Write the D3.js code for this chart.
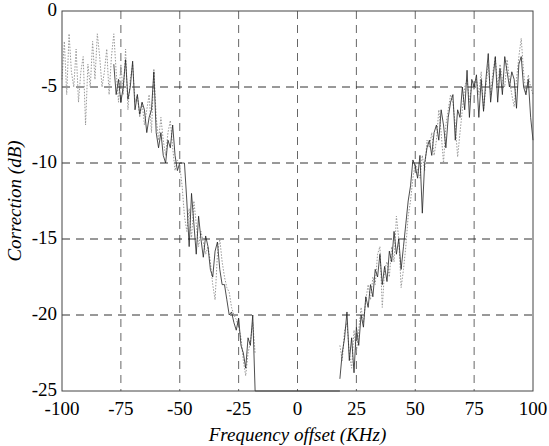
<!DOCTYPE html>
<html><head><meta charset="utf-8">
<script src="https://cdn.jsdelivr.net/npm/d3@7"></script>
</head><body style="margin:0">
<script>
// ---- data ----
const xTicks = [-100,-75,-50,-25,0,25,50,75,100];
const yTicks = [0,-5,-10,-15,-20,-25];
const xLabel = "Frequency offset (KHz)";
const yLabel = "Correction (dB)";

// grey dotted series, left branch (x = -100 .. -18, step 1)
const greyLeftStart = -100;
const greyLeft = [-4.5,-2,-5.5,-1.5,-4,-5,-2.5,-6,-4,-3,-7.5,-3.5,-5,-2,-4.5,-1.5,-3,-5,-4,-2.5,
  -5.5,-3,-1.5,-4,-6,-3.5,-5.5,-2.5,-6.5,-4.5,-3.5,-6,-5.5,-7,-6,-7.5,-6.5,-5.5,-8,-3.8,
  -7,-8.5,-7,-8.5,-9.5,-8,-7.2,-9,-10.5,-9.8,-10.2,-11.5,-13.5,-14.5,-13,-15,-12.5,-14,-15.5,-14.5,
  -15.2,-16,-15.5,-16.5,-18,-19,-16,-15,-16.5,-17.5,-18.2,-18.5,-19.5,-20,-20.3,-20.8,-21.5,-23,-24,-22.5,
  -21.8,-20.5,-22.5];
// grey dotted series, right branch (x = 18 .. 100)
const greyRightStart = 18;
const greyRight = [-22,-23,-21,-20.5,-22.5,-23.5,-21,-22.5,-21,-19.5,-20.5,-19,-18,-19,-17.5,-18,-16,-15.5,-19.5,-17,
  -16.5,-17.5,-15.5,-16.5,-13.5,-15,-18.2,-17,-15.5,-13.5,-12.5,-11,-10,-10.5,-11,-9.5,-10.5,-8.5,-9,-8,
  -9.5,-8.5,-6.5,-8,-10,-7.5,-6.5,-5.5,-6,-7.5,-9.6,-8,-6.5,-5,-4.5,-6,-4.8,-5.2,-4.5,-5.5,
  -4,-6.5,-5,-3.5,-5.5,-4,-3,-5,-3.5,-4.5,-5,-3.2,-4.5,-5.5,-6.3,-4.5,-3,-1.8,-4,-5.5,
  -4.2,-5,-5.5];
// dark solid series, left branch (x = -78 .. -18), then clipped at -25 until x = 18
const darkLeftStart = -78;
const darkLeft = [-3.5,-5.5,-4.5,-6,-5,-3.2,-5.8,-5,-3.3,-6.5,-5.5,-6.8,-6,-6.5,-8,-7,-6.5,-4,-8,-9,
  -8,-9.5,-10,-8.5,-9,-7.5,-9.5,-10.5,-10,-10,-10,-12.5,-15.5,-12,-14,-16,-13.5,-15,-16.2,-14.8,
  -15.5,-17,-17.5,-15.8,-15.2,-17,-18,-18,-19,-20,-19.8,-20.5,-21,-20.2,-22,-22.5,-23.5,-21.5,-22,-20,
  -25];
const floorX = [-18, 18];
const floorY = -25;
const darkRightStart = 18;
const darkRight = [-24.2,-22.5,-21.5,-19.8,-23,-21.5,-23.8,-20.8,-22,-20,-20.8,-18.8,-19.5,-18,-18.8,-17,-17.5,-16,-18,-16.8,
  -17.8,-15.8,-16.5,-14.5,-16,-15,-17,-15.5,-14,-12.5,-11.5,-9.8,-10.2,-11,-9.5,-13.3,-10,-9,-8.5,-9.5,
  -8,-7.5,-8.5,-6.5,-7.5,-9,-7,-6,-5.5,-8.5,-6.5,-7,-5,-6.5,-3.9,-7,-4.5,-5,-4.2,-7,
  -4.5,-6.6,-4.5,-2.8,-6,-4.5,-3,-6,-3.8,-5.5,-3,-4,-5,-4,-4.5,-6.4,-3.5,-3,-5,-5.5,
  -4.5,-7,-8.5];

// ---- layout ----
const W = 549, H = 446;
const m = {left:62, right:16, top:11, bottom:55};
const FONT = '"Times New Roman"';
const FS = 19;
const svg = d3.select("body").append("svg").attr("width",W).attr("height",H);
const x = d3.scaleLinear().domain([-100,100]).range([m.left, W-m.right]);
const y = d3.scaleLinear().domain([-25,0]).range([H-m.bottom, m.top]);

// grid
const g = svg.append("g");
g.selectAll("line.vg").data(xTicks.slice(1,-1)).enter().append("line")
  .attr("x1",d=>x(d)).attr("x2",d=>x(d)).attr("y1",y(0)).attr("y2",y(-25))
  .attr("stroke","#666").attr("stroke-width",1).attr("stroke-dasharray","8,6");
g.selectAll("line.hg").data(yTicks.slice(1,-1)).enter().append("line")
  .attr("y1",d=>y(d)).attr("y2",d=>y(d)).attr("x1",x(-100)).attr("x2",x(100))
  .attr("stroke","#333").attr("stroke-width",1).attr("stroke-dasharray","8,6");

function series(start, vals){ return vals.map((v,i)=>[start+i, v]); }
const line = d3.line().x(d=>x(d[0])).y(d=>y(d[1]));

svg.append("path").datum(series(greyLeftStart, greyLeft)).attr("d",line)
  .attr("fill","none").attr("stroke","#999").attr("stroke-width",1).attr("stroke-dasharray","1.5,1.5");
svg.append("path").datum(series(greyRightStart, greyRight)).attr("d",line)
  .attr("fill","none").attr("stroke","#999").attr("stroke-width",1).attr("stroke-dasharray","1.5,1.5");
const darkL = series(darkLeftStart, darkLeft).concat(floorX.map(v=>[v,floorY]));
svg.append("path").datum(darkL).attr("d",line)
  .attr("fill","none").attr("stroke","#222").attr("stroke-width",0.8);
svg.append("path").datum(series(darkRightStart, darkRight)).attr("d",line)
  .attr("fill","none").attr("stroke","#222").attr("stroke-width",0.8);

// axes box
svg.append("rect").attr("x",x(-100)).attr("y",y(0)).attr("width",x(100)-x(-100)).attr("height",y(-25)-y(0))
  .attr("fill","none").attr("stroke","#444").attr("stroke-width",1);

// tick labels (positions from the scales)
svg.append("g").selectAll("text").data(xTicks).enter().append("text")
  .attr("x",d=>x(d)).attr("y",y(-25)+24).attr("text-anchor","middle")
  .style("font-family",FONT).attr("font-size",FS).text(d=>String(d));
svg.append("g").selectAll("text").data(yTicks).enter().append("text")
  .attr("x",x(-100)-5).attr("y",d=>y(d)+5).attr("text-anchor","end")
  .style("font-family",FONT).attr("font-size",FS).text(d=>String(d));

svg.append("text").attr("x",x(0)).attr("y",441).attr("text-anchor","middle")
  .style("font-family",FONT).style("font-style","italic").attr("font-size",FS).text(xLabel);
svg.append("text").attr("transform",`translate(21,${(y(0)+y(-25))/2}) rotate(-90)`).attr("text-anchor","middle")
  .style("font-family",FONT).style("font-style","italic").attr("font-size",FS).text(yLabel);
</script>
</body></html>
